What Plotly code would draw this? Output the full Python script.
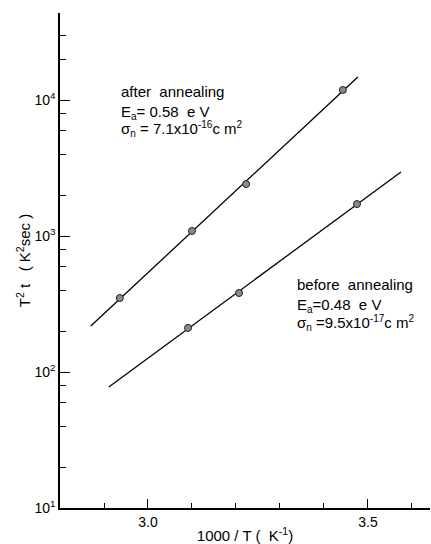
import plotly.graph_objects as go

# Data
after_x = [2.936, 3.100, 3.223, 3.443]
after_y = [350, 1090, 2410, 11860]
after_fit_x = [2.870, 3.477]
after_fit_y = [218, 14760]

before_x = [3.091, 3.207, 3.475]
before_y = [211, 381, 1718]
before_fit_x = [2.911, 3.575]
before_fit_y = [77.6, 2955]

x_major = [3.0, 3.5]
x_major_labels = ["3.0", "3.5"]
x_minor = [2.9, 3.1, 3.2, 3.3, 3.4, 3.6]
y_major = [10, 100, 1000, 10000]
y_major_labels = ["10<sup>1</sup>", "10<sup>2</sup>", "10<sup>3</sup>", "10<sup>4</sup>"]
y_minor = [20, 40, 60, 80, 200, 400, 600, 800, 2000, 4000, 6000, 8000, 20000, 30000]

FONT = "Liberation Sans, Arial, sans-serif"
SMALL = "<span style='font-size:10px'>{}</span>"

fig = go.Figure()
fig.add_trace(go.Scatter(x=after_fit_x, y=after_fit_y, mode="lines",
                         line=dict(color="black", width=1.3), showlegend=False))
fig.add_trace(go.Scatter(x=before_fit_x, y=before_fit_y, mode="lines",
                         line=dict(color="black", width=1.3), showlegend=False))
fig.add_trace(go.Scatter(x=after_x, y=after_y, mode="markers",
                         marker=dict(size=7, color="#8a8a8a", line=dict(color="#222", width=1)),
                         showlegend=False))
fig.add_trace(go.Scatter(x=before_x, y=before_y, mode="markers",
                         marker=dict(size=7, color="#8a8a8a", line=dict(color="#222", width=1)),
                         showlegend=False))

ann_font = dict(family=FONT, size=15, color="black")
texts = [
    (2.934, 4.062, "after  annealing"),
    (2.934, 3.912, "E<sub>" + SMALL.format("a") + "</sub>= 0.58  e V"),
    (2.934, 3.790, "σ<sub>" + SMALL.format("n") + "</sub> = 7.1x10<sup>" + SMALL.format("-16") + "</sup>c m<sup>" + SMALL.format("2") + "</sup>"),
    (3.334, 2.640, "before  annealing"),
    (3.334, 2.486, "E<sub>" + SMALL.format("a") + "</sub>=0.48  e V"),
    (3.334, 2.364, "σ<sub>" + SMALL.format("n") + "</sub> =9.5x10<sup>" + SMALL.format("-17") + "</sup>c m<sup>" + SMALL.format("2") + "</sup>"),
]
for x, ly, t in texts:
    fig.add_annotation(x=x, y=ly, xref="x", yref="y", text=t, showarrow=False,
                       xanchor="left", yanchor="middle", font=ann_font)

fig.update_layout(
    width=431, height=544,
    margin=dict(l=60, r=1, t=13, b=36),
    paper_bgcolor="white", plot_bgcolor="white",
    font=dict(family=FONT, size=14, color="black"),
    xaxis=dict(
        range=[2.8, 3.641], showgrid=False, zeroline=False,
        showline=True, linecolor="black", linewidth=1.5,
        ticks="inside", ticklen=9, tickwidth=1.3, tickcolor="black",
        tickmode="array", tickvals=x_major, ticktext=x_major_labels,
        minor=dict(tickmode="array", tickvals=x_minor, ticks="inside",
                   ticklen=5, tickwidth=1.2, tickcolor="black", showgrid=False),
        title=dict(text="1000 / T (  K<sup>-1</sup>)", standoff=2, font=dict(size=15)),
        tickfont=dict(size=14),
    ),
    yaxis=dict(
        type="log", range=[1, 4.64], showgrid=False, zeroline=False,
        showline=True, linecolor="black", linewidth=1.5,
        ticks="inside", ticklen=10, tickwidth=1.3, tickcolor="black",
        tickmode="array", tickvals=y_major, ticktext=y_major_labels,
        minor=dict(tickmode="array", tickvals=y_minor, ticks="inside",
                   ticklen=6, tickwidth=1.2, tickcolor="black", showgrid=False),
        title=dict(text="T<sup>2</sup> t   ( K<sup>2</sup>sec )", standoff=0, font=dict(size=15)),
        tickfont=dict(size=14),
    ),
)

fig.write_html("out.html")
